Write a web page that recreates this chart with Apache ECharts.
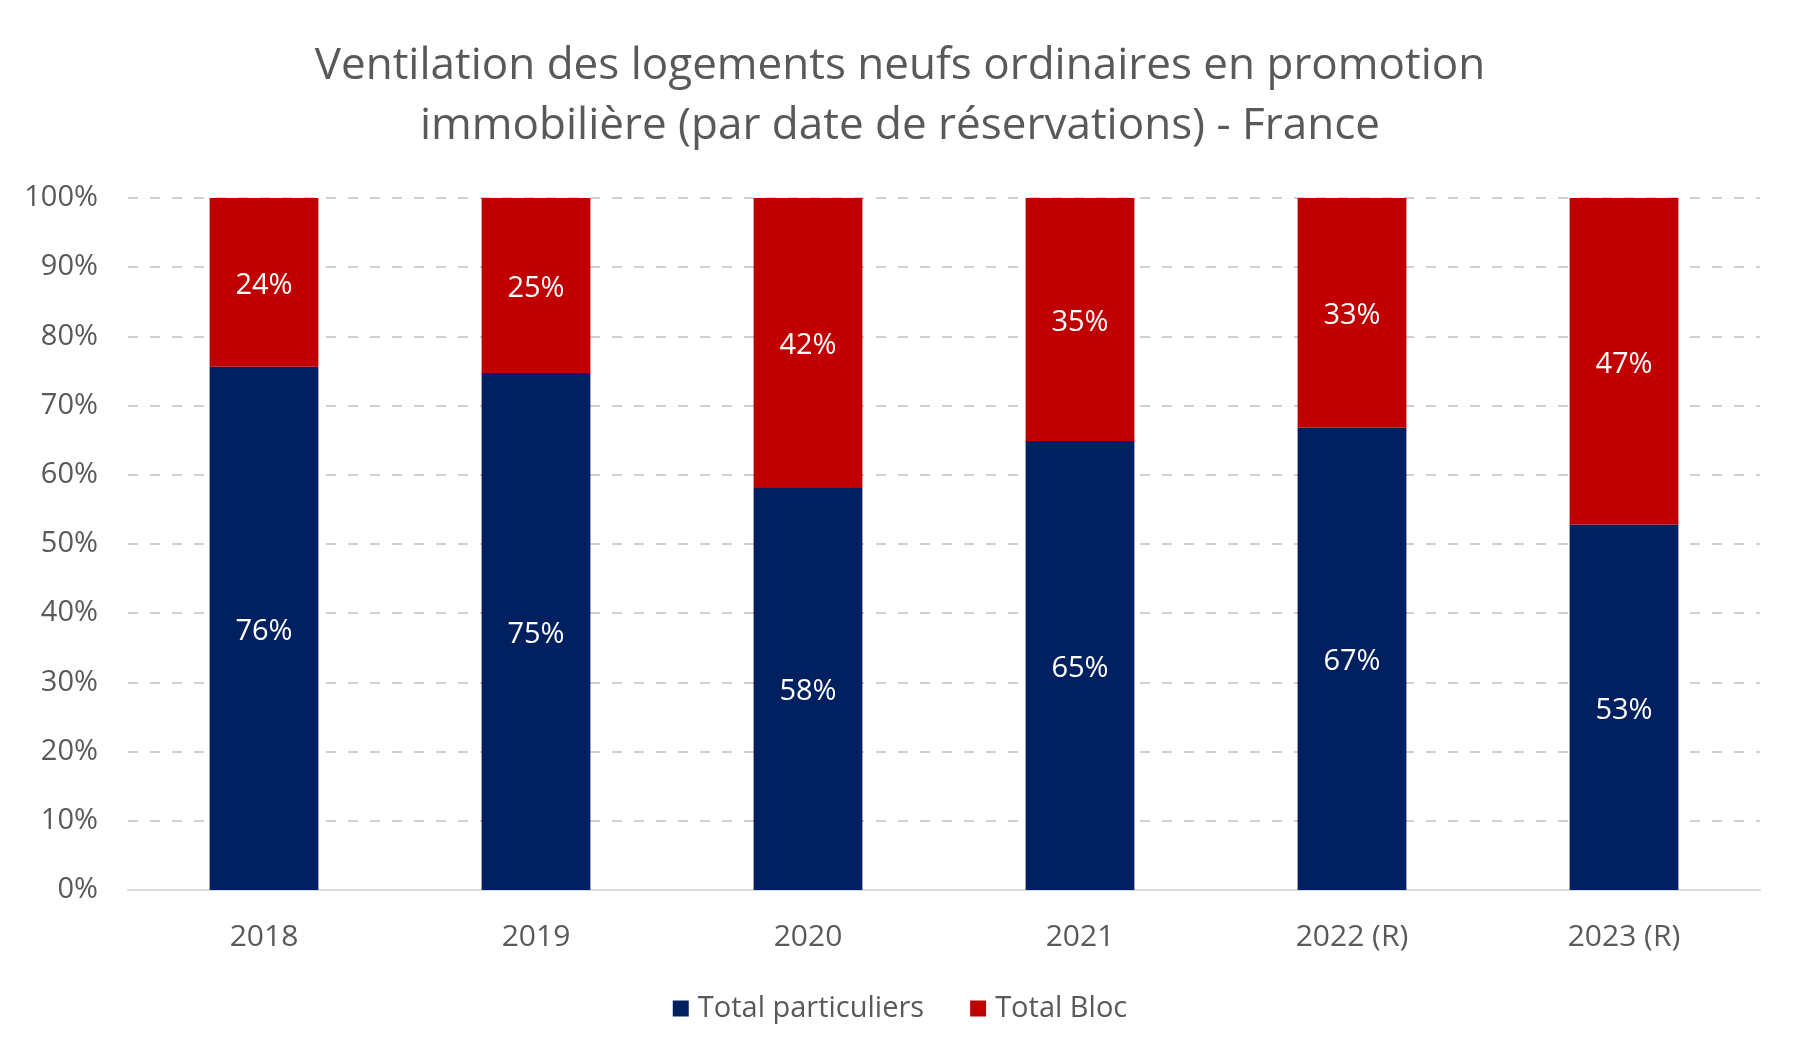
<!DOCTYPE html>
<html>
<head>
<meta charset="utf-8">
<script src="https://cdn.jsdelivr.net/npm/echarts@6/dist/echarts.min.js"></script>
<style>html,body{margin:0;padding:0;background:#fff}#c{width:1800px;height:1060px}</style>
</head>
<body>
<div id="c"></div>
<script>
const titleText = "Ventilation des logements neufs ordinaires en promotion\nimmobilière (par date de réservations) - France";
const categories = ["2018", "2019", "2020", "2021", "2022 (R)", "2023 (R)"];
const particuliers = [75.6, 74.7, 58.1, 64.9, 66.8, 52.8];
const bloc = [24.4, 25.3, 41.9, 35.1, 33.2, 47.2];
const seriesNames = ["Total particuliers", "Total Bloc"];

const FONT = "Open Sans";
const GRAY = "#595959";
const chart = echarts.init(document.getElementById('c'), null, {renderer: 'canvas'});
const labelCfg = {
  show: true, position: 'inside', color: '#ffffff', fontSize: 29, fontFamily: FONT,
  offset: [0, 3],
  formatter: p => Math.round(p.value) + '%'
};
chart.setOption({
  backgroundColor: '#ffffff',
  animation: false,
  title: {
    text: titleText, left: 'center', top: 31,
    textStyle: {fontFamily: FONT, fontSize: 44, fontWeight: 'normal', color: GRAY, lineHeight: 60}
  },
  legend: {
    bottom: 32, left: 'center', itemWidth: 16, itemHeight: 16, itemGap: 46,
    icon: 'rect',
    textStyle: {fontFamily: FONT, fontSize: 29, color: GRAY, padding: [0, 0, 0, 4]},
    data: seriesNames
  },
  grid: {left: 128, right: 40, top: 198, bottom: 170},
  xAxis: {
    type: 'category', data: categories,
    axisLine: {lineStyle: {color: '#d9d9d9', width: 2}},
    axisTick: {show: false},
    axisLabel: {fontFamily: FONT, fontSize: 30, color: GRAY, margin: 32}
  },
  yAxis: {
    type: 'value', min: 0, max: 100, interval: 10,
    axisLabel: {formatter: '{value}%', fontFamily: FONT, fontSize: 29, color: GRAY, margin: 30},
    axisLine: {show: false}, axisTick: {show: false},
    splitLine: {lineStyle: {color: '#d0d0d0', type: [10, 12], width: 2}}
  },
  series: [
    {name: seriesNames[0], type: 'bar', stack: 'a', data: particuliers, barWidth: '40%',
     itemStyle: {color: '#002060'}, label: labelCfg},
    {name: seriesNames[1], type: 'bar', stack: 'a', data: bloc, barWidth: '40%',
     itemStyle: {color: '#C00000'}, label: labelCfg}
  ]
});
</script>
</body>
</html>
